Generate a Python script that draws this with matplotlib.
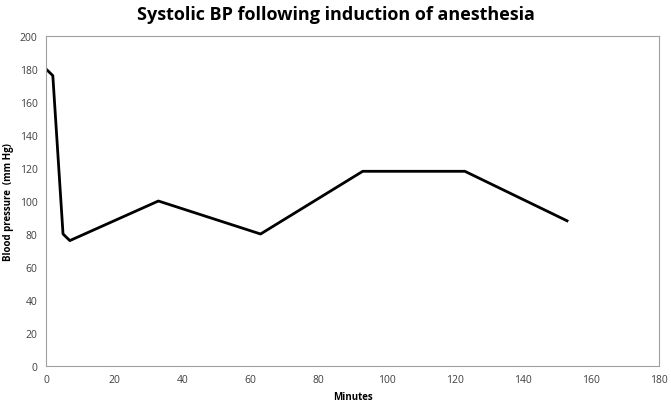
import matplotlib.pyplot as plt

minutes = [0, 2, 5, 7, 33, 63, 93, 123, 153]
systolic = [180, 176, 80, 76, 100, 80, 118, 118, 88]

plt.rcParams['font.family'] = ['Open Sans', 'DejaVu Sans']

fig = plt.figure(figsize=(6.71, 4.10), dpi=100)
ax = fig.add_axes([46 / 671, 43 / 410, 613 / 671, 330 / 410])

ax.plot(minutes, systolic, color="black", linewidth=2)

ax.set_xlim(0, 180)
ax.set_ylim(0, 200)
ax.set_xticks(range(0, 181, 20))
ax.set_yticks(range(0, 201, 20))
ax.tick_params(length=0, labelsize=7.5, colors="#404040", pad=6)

for s in ax.spines.values():
    s.set_color("#a0a0a0")
    s.set_linewidth(0.8)

ax.set_xlabel("Minutes", fontsize=7, fontweight="bold", labelpad=4)
ax.set_ylabel("Blood pressure  (mm Hg)", fontsize=7, fontweight="bold", labelpad=4)
fig.suptitle("Systolic BP following induction of anesthesia", fontsize=13, fontweight="bold", y=0.985)

fig.savefig("out.png", dpi=100)
